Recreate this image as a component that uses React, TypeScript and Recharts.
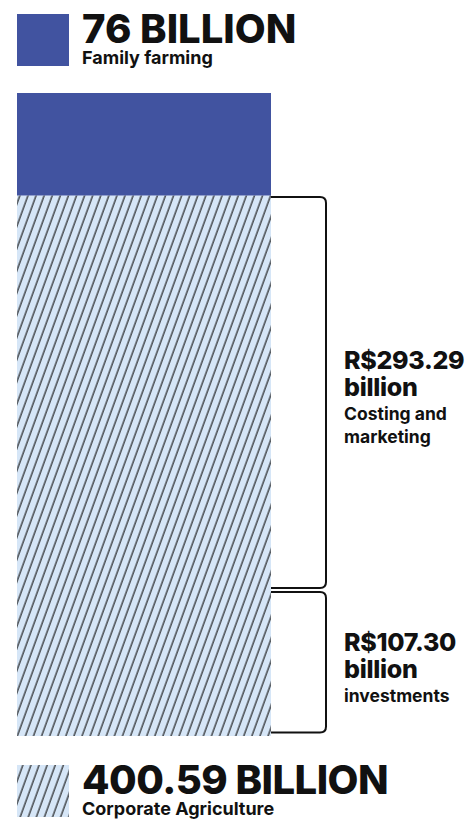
import { BarChart, Bar, XAxis, YAxis, LabelList } from 'recharts'

const categories = ['Agribusiness credit']
const investments = [107.3]
const costing = [293.29]
const family = [76]

const investmentLines = ['R$107.30', 'billion', 'investments']
const costingLines = ['R$293.29', 'billion', 'Costing and', 'marketing']
const familyHeadline = ['76 BILLION', 'Family farming']
const corporateHeadline = ['400.59 BILLION', 'Corporate Agriculture']

const data = categories.map((name, i) => ({
  name,
  investments: investments[i],
  costing: costing[i],
  family: family[i],
}))

const total = investments[0] + costing[0] + family[0]

const BLUE = '#4153a0'
const HATCH_BG = '#d6e6f7'
const INK = '#111'
const FONT = 'Inter, "Noto Sans", sans-serif'

function Bracket(props: any, lines: string[]) {
  const x = Number(props.x)
  const y = Number(props.y)
  const w = Number(props.width)
  const h = Number(props.height)
  const top = y + 1.5
  const bottom = y + h - 2.5
  const bx = x + w + 55
  const r = 6
  const d = `M${x + w},${top} H${bx - r} Q${bx},${top} ${bx},${top + r} V${bottom - r} Q${bx},${bottom} ${bx - r},${bottom} H${x + w}`
  const mid = (top + bottom) / 2
  const gaps = lines.map((_, i) => (i === 0 ? 0 : i === 1 ? 27 : i === 2 ? 24 : 23))
  const span = gaps.reduce((a, b) => a + b, 0)
  let base = mid + 14 - span / 2
  const tx = bx + 18
  return (
    <g>
      <path d={d} fill="none" stroke={INK} strokeWidth={2} />
      {lines.map((t, i) => {
        base += gaps[i]
        const big = i < 2
        return (
          <text
            key={t}
            x={tx}
            y={base}
            fill={INK}
            fontFamily={FONT}
            fontSize={big ? 25 : 17.5}
            fontWeight={big ? 800 : 700}
            letterSpacing={big ? -0.3 : 0}
          >
            {t}
          </text>
        )
      })}
    </g>
  )
}

// stretch the hatched rects 1px down so the two hatched segments show no seam
function HatchRect(props: any) {
  return <rect x={props.x} y={props.y} width={props.width} height={props.height + 1} fill="url(#hatch)" />
}

function Headline({ y, lines, hatched, spacing }: { y: number; lines: string[]; hatched: boolean; spacing: number }) {
  return (
    <g>
      <rect x={17} y={y} width={52} height={52} fill={hatched ? 'url(#hatchLegend)' : BLUE} />
      <text x={82} y={y + 29} fill={INK} fontFamily={FONT} fontSize={40} fontWeight={800} letterSpacing={spacing}>
        {lines[0]}
      </text>
      <text x={82} y={y + 50} fill={INK} fontFamily={FONT} fontSize={18} fontWeight={700}>
        {lines[1]}
      </text>
    </g>
  )
}

function HatchPattern({ id }: { id: string }) {
  return (
    <pattern id={id} patternUnits="userSpaceOnUse" width={7.6} height={7.6} patternTransform="rotate(20)">
      <rect width={7.6} height={7.6} fill={HATCH_BG} />
      <line x1={2} y1={0} x2={2} y2={7.6} stroke={INK} strokeWidth={1.1} />
    </pattern>
  )
}

export default function App() {
  return (
    <div style={{ position: 'absolute', left: 0, top: 0, width: 469, height: 823, background: '#fff' }}>
      <BarChart
        width={469}
        height={823}
        data={data}
        margin={{ top: 93, right: 198, bottom: 88, left: 17 }}
        barCategoryGap={0}
      >
        <defs>
          <HatchPattern id="hatch" />
        </defs>
        <XAxis dataKey="name" hide />
        <YAxis hide domain={[0, total]} />
        <Bar dataKey="investments" stackId="a" fill="url(#hatch)" shape={HatchRect} isAnimationActive={false}>
          <LabelList dataKey="investments" content={(p: any) => Bracket(p, investmentLines)} />
        </Bar>
        <Bar dataKey="costing" stackId="a" fill="url(#hatch)" shape={HatchRect} isAnimationActive={false}>
          <LabelList dataKey="costing" content={(p: any) => Bracket(p, costingLines)} />
        </Bar>
        <Bar dataKey="family" stackId="a" fill={BLUE} isAnimationActive={false} />
      </BarChart>
      <svg width={469} height={823} style={{ position: 'absolute', left: 0, top: 0, pointerEvents: 'none' }}>
        <defs>
          <HatchPattern id="hatchLegend" />
        </defs>
        <Headline y={14} lines={familyHeadline} hatched={false} spacing={0} />
        <Headline y={765} lines={corporateHeadline} hatched={true} spacing={-0.5} />
      </svg>
    </div>
  )
}
